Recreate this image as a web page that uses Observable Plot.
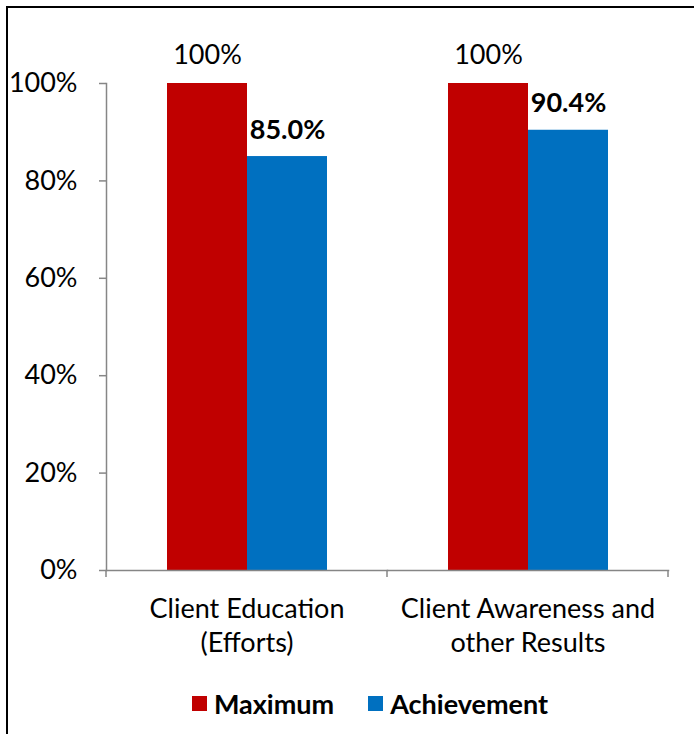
<!DOCTYPE html>
<html><head><meta charset="utf-8">
<script src="https://cdn.jsdelivr.net/npm/d3@7"></script>
<script src="https://cdn.jsdelivr.net/npm/@observablehq/plot@0.6"></script>
<style>
html,body{margin:0;padding:0;background:#fff;overflow:hidden;width:694px;height:734px;}
#border{position:absolute;left:6px;top:6px;width:900px;height:900px;border:2px solid #000;box-sizing:border-box;}
#chart{position:absolute;left:0;top:0;}
#legend{position:absolute;top:687px;left:0;width:740px;display:flex;justify-content:center;}
#legend .lg-swatches{margin:0 !important;min-height:0 !important;font:bold 27px Lato, sans-serif !important;line-height:30px;color:#000;}
#legend .lg-swatch{margin-right:34px !important;}
#legend .lg-swatch:last-child{margin-right:0 !important;}
#legend .lg-swatch > svg{margin-right:7px !important;}
</style></head><body>
<div id="border"></div><div id="chart"></div><div id="legend"></div>
<script>
const categories = ["Client Education (Efforts)", "Client Awareness and other Results"];
const categoryLabels = ["Client Education\n(Efforts)", "Client Awareness and\nother Results"];
const series = ["Maximum", "Achievement"];
const seriesColors = ["#C00000", "#0070C0"];
const maximumValues = [1.0, 1.0];
const achievementValues = [0.850, 0.904];
const yTicks = [0, 0.2, 0.4, 0.6, 0.8, 1.0];

const data = categories.flatMap((c, i) => [
  {category: c, series: series[0], value: maximumValues[i]},
  {category: c, series: series[1], value: achievementValues[i]}
]);
const fmt0 = d3.format(".0%"), fmt1 = d3.format(".1%");
const FONT = 27, GRAY = "#868686";

const plot = Plot.plot({
  width: 694, height: 670,
  marginLeft: 106, marginRight: 26, marginTop: 83, marginBottom: 100,
  style: {fontFamily: "Lato, sans-serif", fontSize: FONT + "px", background: "transparent", color: "#000", overflow: "visible"},
  fx: {domain: categories, paddingInner: 0, paddingOuter: 0, label: null},
  x: {domain: series, paddingInner: 0, paddingOuter: 0.756, axis: null},
  y: {domain: [0, 1], label: null},
  color: {domain: series, range: seriesColors},
  marks: [
    Plot.barY(data, {fx: "category", x: "series", y: "value", fill: "series"}),
    Plot.text(data.filter(d => d.series === series[0]), {fx: "category", x: "series", y: "value", text: d => fmt0(d.value), lineAnchor: "bottom", dy: -20, fontSize: FONT, fill: "#000"}),
    Plot.text(data.filter(d => d.series === series[1]), {fx: "category", x: "series", y: "value", text: d => fmt1(d.value), lineAnchor: "bottom", dy: -18, fontSize: FONT, fontWeight: "bold", fill: "#000"}),
    Plot.frame({anchor: "bottom", stroke: GRAY, strokeWidth: 1.5}),
    Plot.frame({anchor: "left", facetAnchor: "left", stroke: GRAY, strokeWidth: 1.5}),
    Plot.axisY({ticks: yTicks, tickFormat: fmt0, tickSize: 7, tickPadding: 22, stroke: GRAY, strokeWidth: 1.5, fill: "#000", fontSize: FONT, label: null}),
    Plot.axisFx({anchor: "bottom", tickSize: 0, tickPadding: 24, tickFormat: c => categoryLabels[categories.indexOf(c)], lineHeight: 1.25, fontSize: FONT, fill: "#000", label: null})
  ]
});

// boundary tick marks on the category axis, positioned through the fx and y scales
const fx = plot.scale("fx"), ys = plot.scale("y");
const y0 = ys.apply(0);
const bounds = categories.map(c => fx.apply(c));
bounds.push(fx.apply(categories[categories.length - 1]) + fx.bandwidth);
d3.select(plot).append("g").selectAll("line").data(bounds).join("line")
  .attr("x1", d => d).attr("x2", d => d).attr("y1", y0).attr("y2", y0 + 7)
  .attr("stroke", GRAY).attr("stroke-width", 1.5);

document.getElementById("chart").append(plot);

const legend = Plot.legend({color: {domain: series, range: seriesColors}, legend: "swatches", swatchSize: 15, className: "lg"});
document.getElementById("legend").append(legend);
</script>
</body></html>
